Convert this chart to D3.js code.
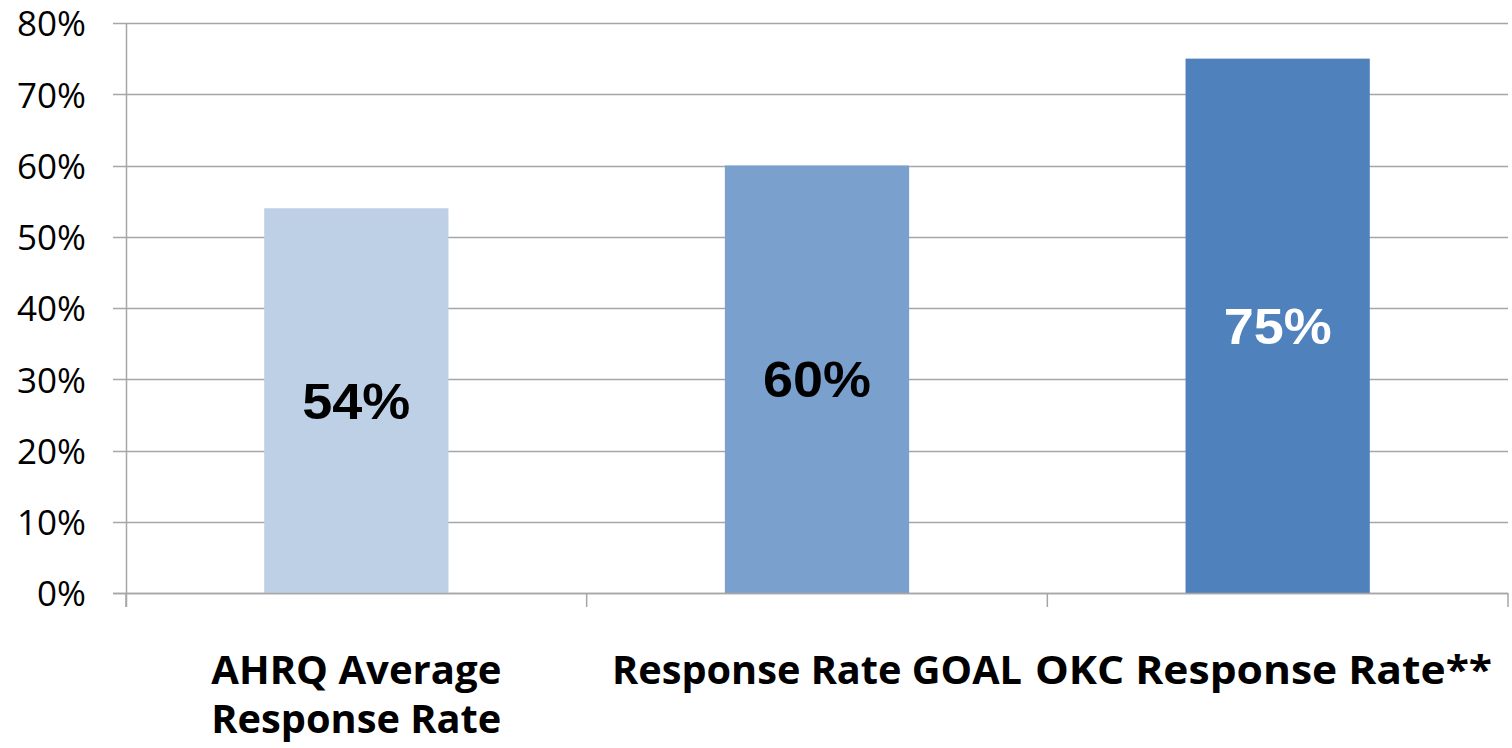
<!DOCTYPE html>
<html><head><meta charset="utf-8">
<script src="https://cdn.jsdelivr.net/npm/d3@7"></script>
<style>html,body{margin:0;padding:0;background:#fff;}svg{display:block;}</style>
</head><body>
<svg id="chart" width="1512" height="748"></svg>
<script>
const categories = [["AHRQ Average", "Response Rate"], ["Response Rate GOAL"], ["OKC Response Rate**"]];
const values = [0.54, 0.60, 0.75];
const valueLabels = ["54%", "60%", "75%"];
const barColors = ["#BED0E6", "#7AA0CD", "#4F81BD"];
const labelColors = ["#000000", "#000000", "#FFFFFF"];
const yTicks = [0, 0.1, 0.2, 0.3, 0.4, 0.5, 0.6, 0.7, 0.8];

(function () {
const svg = d3.select("#chart");
const pLeft = 126, pRight = 1508, pTop = 23, pBottom = 593;

const x = d3.scaleBand().domain(d3.range(categories.length)).range([pLeft, pRight]).paddingInner(0).paddingOuter(0);
const y = d3.scaleLinear().domain([0, 0.8]).range([pBottom, pTop]);
const barW = x.bandwidth() * 0.4;
const gridColor = "#a6a6a6";

// gridlines
svg.append("g").selectAll("line").data(yTicks).join("line")
  .attr("x1", pLeft - 13).attr("x2", pRight)
  .attr("y1", d => Math.round(y(d)) + 0.5).attr("y2", d => Math.round(y(d)) + 0.5)
  .attr("stroke", gridColor).attr("stroke-width", 1.5);

// y labels
svg.append("g").selectAll("text").data(yTicks).join("text")
  .attr("x", 86).attr("y", d => y(d)).attr("dy", "0.38em")
  .attr("text-anchor", "end")
  .attr("font-family", "'Open Sans', sans-serif").attr("font-size", 35)
  .attr("fill", "#000").text(d3.format(".0%"));

// bars
svg.append("g").selectAll("rect").data(values).join("rect")
  .attr("x", (d, i) => x(i) + (x.bandwidth() - barW) / 2)
  .attr("width", barW)
  .attr("y", d => y(d)).attr("height", d => y(0) - y(d))
  .attr("fill", (d, i) => barColors[i]);

// axes lines
svg.append("line").attr("x1", pLeft + 0.5).attr("x2", pLeft + 0.5).attr("y1", pTop).attr("y2", pBottom + 14)
  .attr("stroke", gridColor).attr("stroke-width", 1.5);
svg.append("line").attr("x1", pLeft - 13).attr("x2", pRight).attr("y1", Math.round(y(0)) + 0.5).attr("y2", Math.round(y(0)) + 0.5)
  .attr("stroke", gridColor).attr("stroke-width", 1.5);
const boundaries = d3.range(categories.length + 1).map(i => pLeft + i * x.bandwidth());
svg.append("g").selectAll("line").data(boundaries).join("line")
  .attr("x1", d => d).attr("x2", d => d).attr("y1", pBottom).attr("y2", pBottom + 14)
  .attr("stroke", gridColor).attr("stroke-width", 1.5);

// value labels
svg.append("g").selectAll("text").data(values).join("text")
  .attr("x", (d, i) => x(i) + x.bandwidth() / 2)
  .attr("y", d => (y(d) + y(0)) / 2).attr("dy", "0.36em")
  .attr("text-anchor", "middle")
  .attr("font-family", "'Liberation Sans', Arial, sans-serif").attr("font-weight", "bold")
  .attr("font-size", 50)
  .attr("textLength", 108).attr("lengthAdjust", "spacingAndGlyphs")
  .attr("fill", (d, i) => labelColors[i])
  .text((d, i) => valueLabels[i]);

// category labels
const targets = {"AHRQ Average": 290, "Response Rate": 290, "Response Rate GOAL": 410, "OKC Response Rate**": 457};
const catG = svg.append("g");
categories.forEach((lines, i) => {
  lines.forEach((ln, j) => {
    const w = targets[ln];
    const cx = Math.min(x(i) + x.bandwidth() / 2, pRight - 16 - w / 2);
    catG.append("text")
      .attr("x", cx)
      .attr("y", 684 + j * 49)
      .attr("text-anchor", "middle")
      .attr("font-family", "'Open Sans', sans-serif").attr("font-weight", "bold")
      .attr("font-size", 39)
      .attr("textLength", w).attr("lengthAdjust", "spacingAndGlyphs")
      .attr("fill", "#000").text(ln);
  });
});
})();
</script>
</body></html>
